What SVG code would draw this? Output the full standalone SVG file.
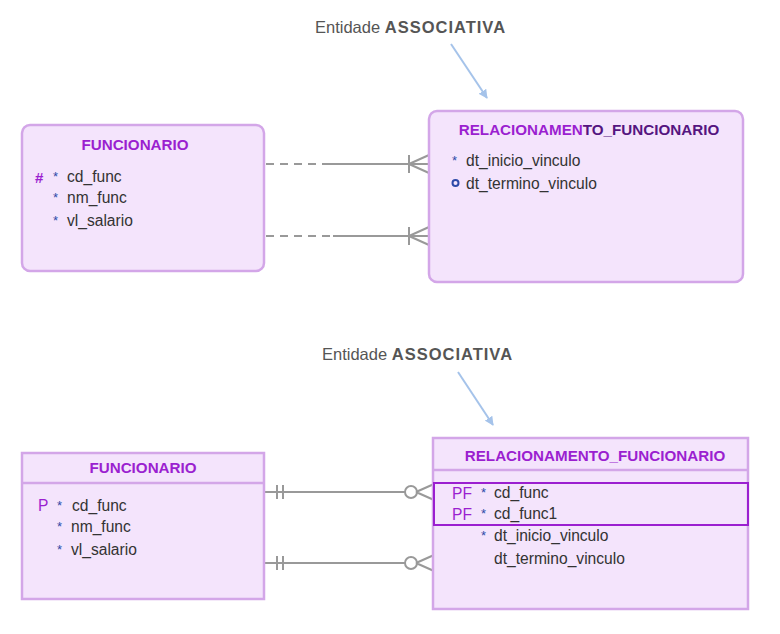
<svg xmlns="http://www.w3.org/2000/svg" width="780" height="634" viewBox="0 0 780 634">
<defs>
<style>
text{font-family:"Liberation Sans",Arial,sans-serif;}
.ent{fill:#f4e4fc;stroke:#d3a6e8;stroke-width:2.5;}
.title{font-size:15.2px;font-weight:bold;fill:#9b1fd0;text-anchor:middle;}
.attr{font-size:15.6px;fill:#333;}
.star{font-size:13px;fill:#2d4aa8;}
.key{font-size:15.6px;fill:#9b1fd0;}
.rel{stroke:#999;stroke-width:2;fill:none;}
.dash{stroke-dasharray:8 6;}
.note{font-size:16.5px;fill:#555;}
.nb{font-weight:bold;letter-spacing:1px;}
.arrow{stroke:#a5c3ea;stroke-width:2;fill:none;}
</style>
<marker id="ah" viewBox="0 0 10 10" refX="9" refY="5" markerWidth="4.5" markerHeight="4.5" orient="auto">
<path d="M0,0 L10,5 L0,10 z" fill="#a5c3ea"/>
</marker>
</defs>

<rect width="780" height="634" fill="#ffffff"/>

<!-- annotations -->
<g id="note1">
<text class="note" x="315" y="33">Entidade <tspan class="nb">ASSOCIATIVA</tspan></text>
<line class="arrow" x1="451" y1="44" x2="487" y2="98" marker-end="url(#ah)"/>
</g>
<g id="note2">
<text class="note" x="322" y="360">Entidade <tspan class="nb">ASSOCIATIVA</tspan></text>
<line class="arrow" x1="458" y1="372" x2="493" y2="425" marker-end="url(#ah)"/>
</g>

<!-- connectors -->
<g id="connectors">
<line class="rel dash" x1="266" y1="164" x2="330" y2="164"/>
<line class="rel" x1="330" y1="164" x2="429" y2="164"/>
<path class="rel" d="M409,155 V173 M409,164 L429,155 M409,164 L429,173"/>
<line class="rel dash" x1="266" y1="236" x2="333" y2="236"/>
<line class="rel" x1="333" y1="236" x2="429" y2="236"/>
<path class="rel" d="M409,227 V245 M409,236 L429,227 M409,236 L429,245"/>

<line class="rel" x1="265" y1="492" x2="405" y2="492"/>
<path class="rel" d="M277,485 V499 M283,485 V499 M416,492 L434,484 M416,492 L434,500"/>
<circle class="rel" cx="411" cy="492" r="6"/>
<line class="rel" x1="265" y1="563" x2="405" y2="563"/>
<path class="rel" d="M277,556 V570 M283,556 V570 M416,563 L434,555 M416,563 L434,571"/>
<circle class="rel" cx="411" cy="563" r="6"/>
</g>

<!-- top left -->
<g id="funcionario1">
<rect class="ent" x="22" y="125" width="242" height="146" rx="8"/>
<text class="title" x="135" y="150">FUNCIONARIO</text>
<text x="35" y="183" font-size="15" font-weight="bold" fill="#9b1fd0">#</text>
<text class="star" x="53" y="181">*</text>
<text class="attr" x="67" y="182">cd_func</text>
<text class="star" x="53" y="202">*</text>
<text class="attr" x="67" y="203">nm_func</text>
<text class="star" x="53" y="225">*</text>
<text class="attr" x="67" y="226">vl_salario</text>
</g>

<!-- top right -->
<g id="relacionamento1">
<rect class="ent" x="429" y="111" width="314" height="171" rx="8"/>
<text class="title" x="589" y="135"><tspan fill="#9b1fd0">RELACIONAMEN</tspan><tspan fill="#551580">TO_FUNCIONARIO</tspan></text>
<text class="star" x="452" y="165">*</text>
<text class="attr" x="466" y="166">dt_inicio_vinculo</text>
<circle cx="455.5" cy="183" r="3" fill="none" stroke="#2d4aa8" stroke-width="2"/>
<text class="attr" x="466" y="189">dt_termino_vinculo</text>
</g>

<!-- bottom left -->
<g id="funcionario2">
<rect class="ent" x="22" y="453" width="242" height="146"/>
<line x1="22" y1="483" x2="264" y2="483" stroke="#d3a6e8" stroke-width="2.5"/>
<text class="title" x="143" y="473">FUNCIONARIO</text>
<text class="key" x="38" y="511">P</text>
<text class="star" x="57" y="510">*</text>
<text class="attr" x="72" y="511">cd_func</text>
<text class="star" x="57" y="531">*</text>
<text class="attr" x="71" y="532">nm_func</text>
<text class="star" x="57" y="554">*</text>
<text class="attr" x="71" y="555">vl_salario</text>
</g>

<!-- bottom right -->
<g id="relacionamento2">
<rect class="ent" x="433" y="438" width="315" height="171"/>
<line x1="433" y1="470" x2="748" y2="470" stroke="#d3a6e8" stroke-width="2.5"/>
<text class="title" x="595" y="461">RELACIONAMENTO_FUNCIONARIO</text>
<rect x="434" y="483" width="314" height="42" fill="none" stroke="#9b1fd0" stroke-width="2"/>
<text class="key" x="452" y="499">PF</text>
<text class="star" x="481" y="497">*</text>
<text class="attr" x="494" y="498">cd_func</text>
<text class="key" x="452" y="520">PF</text>
<text class="star" x="481" y="518">*</text>
<text class="attr" x="494" y="519">cd_func1</text>
<text class="star" x="481" y="540">*</text>
<text class="attr" x="494" y="541">dt_inicio_vinculo</text>
<text class="attr" x="494" y="564">dt_termino_vinculo</text>
</g>
</svg>
